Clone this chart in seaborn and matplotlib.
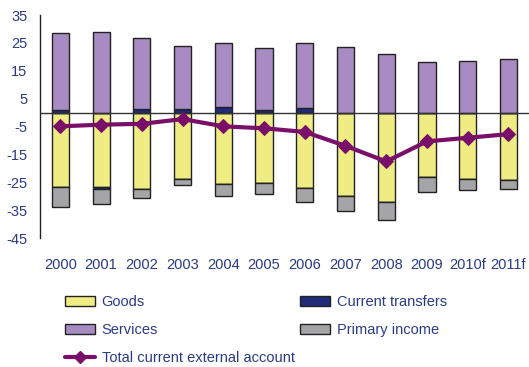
import numpy as np
import pandas as pd
import seaborn as sns
import matplotlib.pyplot as plt
from matplotlib.patches import Patch
from matplotlib.lines import Line2D

years = ["2000", "2001", "2002", "2003", "2004", "2005", "2006",
         "2007", "2008", "2009", "2010f", "2011f"]
goods = [-26.7, -26.5, -27.4, -23.7, -25.5, -25.1, -26.9, -29.7, -32.0, -23.1, -23.7, -24.1]
services = [27.6, 28.9, 25.7, 22.8, 23.1, 22.3, 23.4, 23.5, 21.0, 18.3, 18.6, 19.3]
transfers = [0.8, -1.0, 1.2, 1.2, 1.9, 0.8, 1.6, 0.0, 0.0, 0.0, 0.0, 0.0]
primary = [-7.0, -5.4, -3.1, -2.4, -4.3, -3.9, -5.2, -5.7, -6.6, -5.5, -4.2, -3.1]
total = [-4.9, -4.3, -4.0, -2.3, -4.9, -5.6, -6.9, -11.9, -17.5, -10.3, -9.0, -7.7]

c_goods = "#f0ec84"
c_serv = "#a78bc2"
c_tr = "#1f2a78"
c_prim = "#a5a5a8"
c_line = "#7a0f6a"
c_text = "#2b3a86"

sns.set_style("white")
plt.rcParams["font.family"] = ["Liberation Sans", "DejaVu Sans"]
plt.rcParams["axes.unicode_minus"] = False

df = pd.DataFrame({"year": years, "goods": goods, "services": services,
                   "transfers": transfers, "primary": primary, "total": total})
tr = df["transfers"].to_numpy()
tr_pos = np.where(tr > 0, tr, 0)
tr_neg = np.where(tr < 0, tr, 0)

fig = plt.figure(figsize=(5.29, 3.67), dpi=100)
ax = fig.add_axes([0.0756, 0.351, 0.924, 0.608])

bw = 0.42
edge = dict(edgecolor="#222222", linewidth=1.0)
sns.barplot(x=df["year"], y=df["goods"], order=years, color=c_goods, width=bw, ax=ax,
            saturation=1, **edge)
sns.barplot(x=df["year"], y=tr_pos, order=years, color=c_tr, width=bw, ax=ax,
            saturation=1, **edge)
sns.barplot(x=df["year"], y=tr_neg, order=years, color=c_tr, width=bw, ax=ax,
            saturation=1, bottom=df["goods"].to_numpy(), **edge)
sns.barplot(x=df["year"], y=df["services"], order=years, color=c_serv, width=bw, ax=ax,
            saturation=1, bottom=tr_pos, **edge)
sns.barplot(x=df["year"], y=df["primary"], order=years, color=c_prim, width=bw, ax=ax,
            saturation=1, bottom=(df["goods"].to_numpy() + tr_neg), **edge)

ax.axhline(0, color="#333333", linewidth=1.0, zorder=3)
sns.lineplot(x=np.arange(len(years)), y=df["total"], ax=ax, color=c_line, linewidth=3,
             marker="D", markersize=7, markeredgecolor=c_line, zorder=4)

ax.set_xlim(-0.5, len(years) - 0.5)
ax.set_ylim(-45, 35)
ax.set_yticks(np.arange(-45, 36, 10))
ax.set_xlabel("")
ax.set_ylabel("")
for s in ["top", "right", "bottom"]:
    ax.spines[s].set_visible(False)
ax.spines["left"].set_color("#222222")
ax.spines["left"].set_linewidth(1.0)
ax.tick_params(axis="y", length=0, pad=9, labelsize=10.5, labelcolor=c_text)
ax.tick_params(axis="x", length=0, pad=14, labelsize=10.5, labelcolor=c_text)

handles = [
    Patch(facecolor=c_goods, edgecolor="#222222", label="Goods"),
    Patch(facecolor=c_serv, edgecolor="#222222", label="Services"),
    Line2D([0], [0], color=c_line, lw=3, marker="D", markersize=6, label="Total current external account"),
    Patch(facecolor=c_tr, edgecolor="#222222", label="Current transfers"),
    Patch(facecolor=c_prim, edgecolor="#222222", label="Primary income"),
]
leg = fig.legend(handles=handles, loc="upper left", bbox_to_anchor=(0.122, 0.195),
                 ncol=2, frameon=False, fontsize=10.5, handlelength=2.1, handleheight=0.7,
                 handletextpad=0.45, columnspacing=0.35, labelspacing=0.95, borderpad=0,
                 borderaxespad=0)
for t in leg.get_texts():
    t.set_color(c_text)

fig.savefig("out.png", dpi=100)
